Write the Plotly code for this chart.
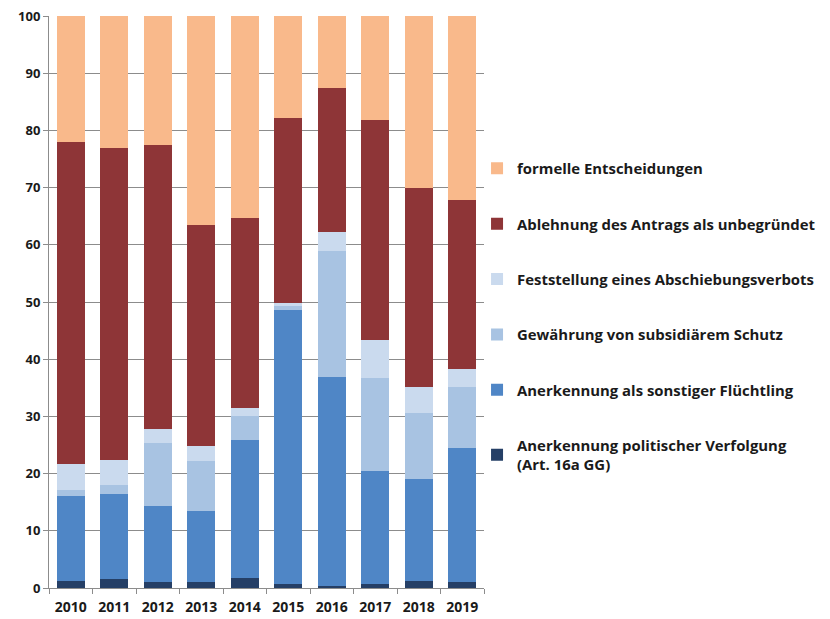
import plotly.graph_objects as go

years = ["2010", "2011", "2012", "2013", "2014", "2015", "2016", "2017", "2018", "2019"]

politische_verfolgung = [1.3, 1.5, 1.1, 1.1, 1.8, 0.7, 0.3, 0.7, 1.2, 1.1]
sonstiger_fluechtling = [14.7, 15.0, 13.2, 12.4, 24.1, 47.9, 36.6, 19.7, 17.9, 23.4]
subsidiaerer_schutz = [1.2, 1.5, 11.1, 8.7, 4.1, 0.7, 22.0, 16.4, 11.5, 10.6]
abschiebungsverbot = [4.4, 4.3, 2.4, 2.6, 1.4, 0.6, 3.4, 6.6, 4.5, 3.2]
ablehnung = [56.4, 54.7, 49.6, 38.6, 33.3, 32.3, 25.1, 38.4, 34.8, 29.5]
formelle = [22.0, 23.0, 22.6, 36.6, 35.3, 17.8, 12.6, 18.2, 30.1, 32.2]

series = [
    ("Anerkennung politischer Verfolgung<br>(Art. 16a GG)", politische_verfolgung, "#253F66"),
    ("Anerkennung als sonstiger Flüchtling", sonstiger_fluechtling, "#4F86C6"),
    ("Gewährung von subsidiärem Schutz", subsidiaerer_schutz, "#A8C3E2"),
    ("Feststellung eines Abschiebungsverbots", abschiebungsverbot, "#CADAEE"),
    ("Ablehnung des Antrags als unbegründet", ablehnung, "#8E3537"),
    ("formelle Entscheidungen", formelle, "#F9B98B"),
]

fig = go.Figure()
n = len(series)
for i, (name, vals, col) in enumerate(series):
    fig.add_trace(go.Bar(
        x=years, y=vals, name=name, marker=dict(color=col, line=dict(width=0)),
        legendgroup="g%d" % i, legendrank=n - i,
    ))

fig.update_layout(
    width=822, height=611,
    barmode="stack", bargap=0.35,
    plot_bgcolor="white", paper_bgcolor="white",
    margin=dict(l=41, r=346, t=8, b=31, autoexpand=False),
    font=dict(family="Open Sans", size=13, color="#1a1a1a"),
    showlegend=True,
    legend=dict(
        x=0.984, y=0.762, xanchor="left", yanchor="top",
        bgcolor="rgba(0,0,0,0)",
        traceorder="grouped", tracegroupgap=33,
        font=dict(family="Open Sans", size=14.9, color="#1a1a1a", weight="bold"),
        itemwidth=30,
    ),
    xaxis=dict(
        automargin=False,
        showline=True, linecolor="#8c8c8c", linewidth=1,
        ticks="outside", ticklen=5, tickcolor="#8c8c8c", tickson="boundaries",
        ticklabelstandoff=6,
        tickfont=dict(family="Open Sans", size=14, color="#1a1a1a", weight="bold"),
    ),
    yaxis=dict(
        automargin=False,
        range=[0, 100], dtick=10,
        ticklabeloverflow="allow",
        showline=True, linecolor="#8c8c8c", linewidth=1,
        showgrid=True, gridcolor="#8c8c8c", gridwidth=1,
        ticks="outside", ticklen=5, tickcolor="#8c8c8c",
        tickfont=dict(family="Open Sans", size=13, color="#1a1a1a", weight="bold"),
        zeroline=False,
    ),
)

fig.write_html("out.html")
